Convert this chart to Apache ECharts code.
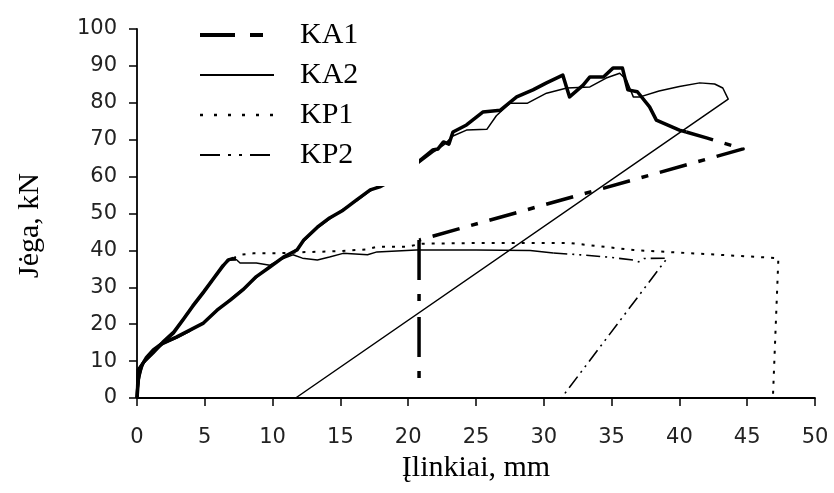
<!DOCTYPE html>
<html>
<head>
<meta charset="utf-8">
<script src="https://cdn.jsdelivr.net/npm/echarts@6/dist/echarts.min.js"></script>
<style>
html,body{margin:0;padding:0;background:#fff;}
#chart{width:834px;height:493px;}
</style>
</head>
<body>
<div id="chart"></div>
<script>
// ---- data ([deflection mm, force kN]) ----
var seriesNames = ['KA1', 'KA2', 'KP1', 'KP2'];
var xTicks = [0, 5, 10, 15, 20, 25, 30, 35, 40, 45, 50];
var yTicks = [0, 10, 20, 30, 40, 50, 60, 70, 80, 90, 100];

var ka1Dense = [[0,0],[0.1,5],[0.3,8.5],[0.7,11],[1.2,13],[1.9,14.9],[2.9,16.5],[3.9,18.4],[4.9,20.3],[5.9,23.8],[6.9,26.6],[7.8,29.3],[8.8,32.9],[9.8,35.5],[10.8,38.2],[11.8,40.1],[12.3,42.8],[13.3,46.3],[14.2,48.8],[15.2,50.9],[16.2,53.7],[17.2,56.4],[17.9,57.2],[18.8,59],[19.8,61],[20.9,64.5],[21.8,67.2],[22.2,67.5],[22.6,69.4],[23,68.8],[23.3,72.1],[24.3,74],[25.5,77.5],[26.8,78],[28,81.6],[29.2,83.5],[30.2,85.4],[31.4,87.5],[31.9,81.6],[32.9,84.8],[33.4,87],[34.4,87],[35.1,89.4],[35.8,89.4],[36.2,83.5],[36.9,83],[37.8,78.9],[38.3,75.3],[40,72.6],[40.5,72.1]];
var ka1Tail = [[40.5,72.1],[42.0,70.5],[44.7,67.5],[20.8,42.8]];
var ka1Drop = [[20.8,42.8],[20.8,4]];
var ka2 = [[0,0],[0.2,6],[0.5,9.5],[1,12],[1.9,14.5],[2.9,16.2],[3.9,18.1],[4.9,20.5],[5.9,23.5],[6.9,26.9],[7.8,29.6],[8.8,32.6],[9.8,35.8],[10.8,38],[11.8,40.4],[12.3,42.5],[13.3,46],[14.2,48.5],[15.2,51.2],[16.2,53.4],[17.2,56.1],[18,57.8],[19,59.5],[20,61.5],[20.9,64],[21.8,66.5],[22.6,68.5],[23.3,71],[24.3,72.6],[25.8,72.8],[26.5,76.5],[27.5,79.9],[28.8,79.9],[30.2,82.6],[31.7,84],[33.4,84.3],[34.6,86.7],[35.6,88],[36.1,86.2],[36.6,81.6],[37.1,81.6],[38.5,83.2],[40,84.4],[41.5,85.4],[42.6,85.1],[43.2,84],[43.6,81],[11.7,0]];
var kp1Rise = [[0,0],[0.07,7.6],[0.45,9.5],[1.2,12.2],[1.9,14.9],[2.7,17.6],[3.4,21.1],[4.1,24.7],[4.9,28.5],[5.6,32],[6.3,35.5],[6.7,37.4],[7.1,37.9]];
var kp1 = [[7.1,37.9],[7.6,38.8],[8.6,39.2],[10.3,39.2],[12,39.5],[15,39.8],[17,40.3],[17.7,41],[19.9,41],[21,41.8],[25,42],[31.9,42],[33.9,41.2],[36.6,40.1],[39,39.6],[43,38.8],[47.3,37.9],[46.9,0.5]];
var kp2Rise = [[0,0],[0.1,7],[0.5,9.8],[1.2,12.5],[1.9,15.2],[2.7,17.9],[3.4,21.4],[4.1,25],[4.9,28.8],[5.6,32.3],[6.3,35.8],[6.8,37.5],[7.3,37.6]];
var kp2Flat = [[7.3,37.6],[7.6,36.6],[8.8,36.6],[9.8,36],[10.5,37.4],[11.5,38.8],[12.2,37.9],[13.3,37.4],[14.2,38.2],[15.2,39.2],[17,38.8],[17.7,39.6],[20.6,40.1],[25,40.1],[29,40],[30.7,39.3]];
var kp2Tail = [[30.7,39.3],[32.7,38.8],[34.7,38.2],[36.6,37.4],[37,36.9],[37.4,37.8],[39.1,37.9],[31.3,0]];

var chart = echarts.init(document.getElementById('chart'), null, {renderer: 'canvas'});

function line(name, data, width, type, z) {
  return {
    name: name, type: 'line', data: data, symbol: 'none', smooth: false,
    lineStyle: {color: '#000', width: width, type: type, cap: 'butt', join: 'round'},
    itemStyle: {color: '#000'},
    z: z || 2, silent: true, animation: false
  };
}

var tickFont = {fontFamily: 'DejaVu Sans', fontSize: 21, color: '#222'};
var titleFont = {fontFamily: 'Liberation Serif', fontSize: 30, color: '#000'};
var hiddenDot = {opacity: 0};

chart.setOption({
  animation: false,
  backgroundColor: '#fff',
  grid: {left: 137, right: 19, top: 29, bottom: 95, containLabel: false},
  xAxis: {
    type: 'value', min: 0, max: 50, interval: 5,
    name: 'Įlinkiai, mm', nameLocation: 'middle', nameGap: 54,
    nameTextStyle: titleFont,
    axisLine: {show: true, lineStyle: {color: '#000', width: 1.8}},
    axisTick: {show: true, length: 8, lineStyle: {color: '#000', width: 1.5}},
    axisLabel: Object.assign({margin: 29, formatter: function (v) { return xTicks.indexOf(v) >= 0 ? String(v) : ''; }}, tickFont),
    splitLine: {show: false}
  },
  yAxis: {
    type: 'value', min: 0, max: 100, interval: 10,
    name: 'Jėga, kN', nameLocation: 'middle', nameGap: 92, nameRotate: 90,
    nameTextStyle: Object.assign({padding: [0, 24, 0, 0]}, titleFont),
    axisLine: {show: true, lineStyle: {color: '#000', width: 1.8}},
    axisTick: {show: true, length: 8, lineStyle: {color: '#000', width: 1.5}},
    axisLabel: Object.assign({margin: 20, formatter: function (v) { return yTicks.indexOf(v) >= 0 ? String(v) : ''; }}, tickFont),
    splitLine: {show: false}
  },
  legend: {
    data: [
      {name: seriesNames[0], itemStyle: hiddenDot, lineStyle: {width: 4, type: [35, 15, 13, 100]}},
      {name: seriesNames[1], itemStyle: hiddenDot, lineStyle: {width: 1.8}},
      {name: seriesNames[2], itemStyle: hiddenDot, lineStyle: {width: 2.5, type: [3, 11]}},
      {name: seriesNames[3], itemStyle: hiddenDot, lineStyle: {width: 2.2, type: [20, 8, 3, 8, 3, 8]}}
    ],
    orient: 'vertical', left: 193, top: 15,
    itemWidth: 74, itemHeight: 12, itemGap: 10,
    selectedMode: false, z: 20,
    itemStyle: hiddenDot,
    textStyle: {fontFamily: 'Liberation Serif', fontSize: 30, color: '#000', lineHeight: 30, padding: [0, 0, 0, 21]}
  },
  graphic: [{
    type: 'rect', left: 180, top: 10, z: 10, silent: true,
    shape: {width: 239, height: 176},
    style: {fill: '#fff'}
  }],
  series: [
    line('KA1', ka1Tail, 3.5, [28, 12, 7, 12], 3),
    line('KA2', ka2, 1.5, 'solid', 2),
    line('KP1', kp1, 2, [3, 7], 2),
    line('KP2', kp2Tail, 1.6, [14, 5, 2, 5, 2, 5], 2),
    line('KA1', ka1Drop, 3.5, [40, 14, 7, 16], 3),
    line('KA1', ka1Dense, 3.5, 'solid', 3),
    line('KP1', kp1Rise, 3, 'solid', 2),
    line('KP2', kp2Rise, 3, 'solid', 2),
    line('KP2', kp2Flat, 1.5, 'solid', 2)
  ]
});
</script>
</body>
</html>
